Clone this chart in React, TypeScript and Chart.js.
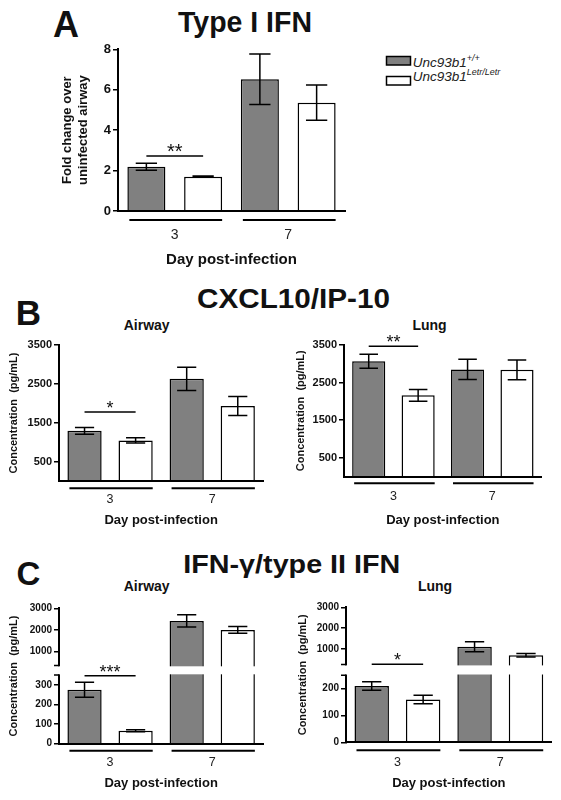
import React, { useEffect, useRef } from 'react';
import { Chart, registerables, LinearScale } from 'chart.js';

Chart.register(...registerables);

const FONT = "'Liberation Sans', Arial, Helvetica, sans-serif";
const GRAY = '#808080';

// ---------- data ----------
const days = ['3', '7'];
const seriesNames = ['Unc93b1+/+', 'Unc93b1Letr/Letr'];

// A: Type I IFN (fold change)
const typeI_wt = [2.19, 6.52];
const typeI_wtErr = [0.17, 1.25];
const typeI_letr = [1.7, 5.36];
const typeI_letrErr = [0.03, 0.87];
const typeI_ticks = [0, 2, 4, 6, 8];

// B: CXCL10 airway / lung (pg/mL)
const cxclAir_wt = [1290, 2630];
const cxclAir_wtErr = [85, 300];
const cxclAir_letr = [1045, 1930];
const cxclAir_letrErr = [65, 245];
const cxclLung_wt = [3065, 2850];
const cxclLung_wtErr = [187, 270];
const cxclLung_letr = [2160, 2840];
const cxclLung_letrErr = [155, 262];
const cxcl_ticks = [500, 1500, 2500, 3500];

// C: IFN-gamma airway / lung (pg/mL)
const ifngAir_wt = [275, 2415];
const ifngAir_wtErr = [38, 283];
const ifngAir_letr = [66, 2000];
const ifngAir_letrErr = [5, 152];
const ifngLung_wt = [210, 1110];
const ifngLung_wtErr = [16, 240];
const ifngLung_letr = [160, 698];
const ifngLung_letrErr = [16, 80];
const ifngAir_ticks = [0, 100, 200, 300, 1000, 2000, 3000];
const ifngLung_ticks = [0, 100, 200, 1000, 2000, 3000];

// ---------- broken y scale ----------
class BrokenLinearScale extends LinearScale {
  static id = 'brokenLinear';
  static defaults = { ...(LinearScale as any).defaults };
  _brk(): any {
    const o: any = this.options;
    return (o && o.brk) || ((this.chart.config.options as any).brk);
  }
  getPixelForValue(value: number) {
    const brk = this._brk();
    if (!brk) return super.getPixelForValue(value);
    const H = this.bottom - this.top;
    const hLow = H * brk.lowFrac;
    const gap = H * brk.gapFrac;
    const hUp = H - hLow - gap;
    if (value <= brk.low) return this.bottom - ((value - this.min) / (brk.low - this.min)) * hLow;
    const v = Math.max(value, brk.high);
    return this.bottom - hLow - gap - ((v - brk.high) / (this.max - brk.high)) * hUp;
  }
  getValueForPixel(pixel: number) {
    const brk = this._brk();
    if (!brk) return super.getValueForPixel(pixel);
    const H = this.bottom - this.top;
    const hLow = H * brk.lowFrac;
    const gap = H * brk.gapFrac;
    const hUp = H - hLow - gap;
    const d = this.bottom - pixel;
    if (d <= hLow) return this.min + (d / hLow) * (brk.low - this.min);
    return brk.high + ((d - hLow - gap) / hUp) * (this.max - brk.high);
  }
}
Chart.register(BrokenLinearScale);

interface Spec {
  wt: number[]; wtErr: number[]; letr: number[]; letrErr: number[];
  ymin: number; ymax: number; ticks: number[];
  brk?: { low: number; high: number; lowFrac: number; gapFrac: number };
  sig: { value: number; text: string; font: number };
  yTitle: string | string[];
  area: { L: number; T: number; R: number; B: number };
  yTitleX: number; yTitleFont: number; yTitleLH: number;
  yTickFont: number;
  xLabelY: number; xLabelFont: number;
  xTitleY: number; xTitleFont: number;
  groupLineOffset: number;
  capFrac: number;
}

function geometry(s: Spec) {
  const cl = Math.floor(s.yTitleX - s.yTitleLH / 2 - 2);
  const yW = s.area.L - cl;
  const yTitlePad = s.yTitleX - cl - s.yTitleLH / 2;
  const ct = Math.floor(s.area.T - 12);
  const padTop = s.area.T - ct;
  const xLH = s.xTitleFont * 1.2;
  const cb = Math.ceil(s.xTitleY + xLH / 2 + 3);
  const xTitlePadBottom = cb - (s.xTitleY + xLH / 2);
  const xH = cb - s.area.B;
  const cr = Math.ceil(s.area.R + 8);
  const padRight = cr - s.area.R;
  const xTickPad = s.xLabelY - s.area.B - 0.6 * s.xLabelFont;
  return { cl, ct, w: cr - cl, h: cb - ct, yW, yTitlePad, padTop, xTitlePadBottom, xH, padRight, xTickPad };
}

function buildConfig(s: Spec): any {
  const g = geometry(s);
  const annot = {
    id: 'annot',
    afterDraw(chart: any) {
      const ctx = chart.ctx;
      const y = chart.scales.y;
      const area = chart.chartArea;
      ctx.save();
      // axis break
      if (s.brk) {
        const H = area.bottom - area.top;
        const lowTop = area.bottom - H * s.brk.lowFrac;
        const upBottom = lowTop - H * s.brk.gapFrac;
        ctx.fillStyle = '#fff';
        ctx.fillRect(area.left - 3, upBottom + 0.8, area.right - area.left + 3, lowTop - upBottom - 1.6);
        ctx.strokeStyle = '#000';
        ctx.lineWidth = 1.5;
        ctx.beginPath();
        ctx.moveTo(area.left - 5, upBottom); ctx.lineTo(area.left, upBottom);
        ctx.moveTo(area.left - 5, lowTop); ctx.lineTo(area.left, lowTop);
        ctx.stroke();
      }
      // error bars
      const errs = [s.wtErr, s.letrErr];
      const vals = [s.wt, s.letr];
      ctx.strokeStyle = '#000';
      ctx.lineWidth = 1.5;
      errs.forEach((errArr, di) => {
        const meta = chart.getDatasetMeta(di);
        meta.data.forEach((el: any, j: number) => {
          const v = vals[di][j];
          const e = errArr[j];
          const yHi = y.getPixelForValue(v + e);
          const yLo = y.getPixelForValue(v - e);
          const cap = el.width * s.capFrac;
          ctx.beginPath();
          ctx.moveTo(el.x, yHi); ctx.lineTo(el.x, yLo);
          ctx.moveTo(el.x - cap, yHi); ctx.lineTo(el.x + cap, yHi);
          ctx.moveTo(el.x - cap, yLo); ctx.lineTo(el.x + cap, yLo);
          ctx.stroke();
        });
      });
      // group lines under x axis
      const m0 = chart.getDatasetMeta(0);
      const m1 = chart.getDatasetMeta(1);
      ctx.lineWidth = 2;
      m0.data.forEach((b0: any, i: number) => {
        const b1 = m1.data[i];
        const yy = area.bottom + s.groupLineOffset;
        ctx.beginPath();
        ctx.moveTo(b0.x - b0.width / 2 + 2, yy);
        ctx.lineTo(b1.x + b1.width / 2, yy);
        ctx.stroke();
      });
      // significance
      const ys = y.getPixelForValue(s.sig.value);
      const xa = m0.data[0].x;
      const xb = m1.data[0].x;
      ctx.lineWidth = 1.5;
      ctx.beginPath();
      ctx.moveTo(xa, ys); ctx.lineTo(xb, ys);
      ctx.stroke();
      ctx.fillStyle = '#111';
      ctx.font = `${s.sig.font}px ${FONT}`;
      ctx.textAlign = 'center';
      ctx.textBaseline = 'alphabetic';
      ctx.fillText(s.sig.text, (xa + xb) / 2, ys + 2);
      ctx.restore();
    },
  };

  return {
    type: 'bar',
    data: {
      labels: days,
      datasets: [
        { label: seriesNames[0], data: s.wt, backgroundColor: GRAY, borderColor: '#000', borderWidth: 1.5 },
        { label: seriesNames[1], data: s.letr, backgroundColor: '#ffffff', borderColor: '#000', borderWidth: 1.5 },
      ],
    },
    options: {
      responsive: false,
      animation: false,
      brk: s.brk,
      layout: { padding: { left: 0, top: g.padTop, right: g.padRight, bottom: 0 } },
      datasets: { bar: { categoryPercentage: 1.0, barPercentage: 0.67 } },
      plugins: { legend: { display: false }, tooltip: { enabled: false }, title: { display: false } },
      scales: {
        x: {
          type: 'category',
          offset: true,
          grid: { display: false, drawTicks: false },
          border: { display: true, color: '#000', width: 2, z: 1 },
          ticks: { padding: g.xTickPad, color: '#222', font: { family: FONT, size: s.xLabelFont } },
          title: {
            display: true,
            text: 'Day post-infection',
            color: '#111',
            font: { family: FONT, size: s.xTitleFont, weight: 'bold', lineHeight: 1.2 },
            padding: { top: 0, bottom: g.xTitlePadBottom },
          },
          afterFit: (sc: any) => { sc.height = g.xH; },
        },
        y: {
          type: s.brk ? 'brokenLinear' : 'linear',
          brk: s.brk,
          min: s.ymin,
          max: s.ymax,
          grid: { display: true, drawOnChartArea: false, drawTicks: true, tickLength: 5, color: '#000', lineWidth: 1.5 },
          border: { display: true, color: '#000', width: 2, z: 1 },
          ticks: {
            padding: 2,
            color: '#111',
            autoSkip: false,
            callback: (v: any) => String(v),
            font: { family: FONT, size: s.yTickFont, weight: 'bold' },
          },
          afterBuildTicks: (sc: any) => { sc.ticks = s.ticks.map((v) => ({ value: v })); },
          title: {
            display: true,
            text: s.yTitle,
            color: '#111',
            font: { family: FONT, size: s.yTitleFont, weight: 'bold', lineHeight: s.yTitleLH / s.yTitleFont },
            padding: { top: g.yTitlePad, bottom: 0 },
          },
          afterFit: (sc: any) => { sc.width = g.yW; },
        },
      },
    },
    plugins: [annot],
  };
}

const specs: Spec[] = [
  {
    wt: typeI_wt, wtErr: typeI_wtErr, letr: typeI_letr, letrErr: typeI_letrErr,
    ymin: 0, ymax: 8, ticks: typeI_ticks,
    sig: { value: 2.72, text: '**', font: 20 },
    yTitle: ['Fold change over', 'uninfected airway'],
    area: { L: 118, T: 49.3, R: 345, B: 211 },
    yTitleX: 67, yTitleFont: 13, yTitleLH: 16,
    yTickFont: 13,
    xLabelY: 235, xLabelFont: 14,
    xTitleY: 260, xTitleFont: 15,
    groupLineOffset: 9, capFrac: 0.28,
  },
  {
    wt: cxclAir_wt, wtErr: cxclAir_wtErr, letr: cxclAir_letr, letrErr: cxclAir_letrErr,
    ymin: 0, ymax: 3500, ticks: cxcl_ticks,
    sig: { value: 1777, text: '*', font: 18 },
    yTitle: 'Concentration  (pg/mL)',
    area: { L: 59, T: 345, R: 263.3, B: 481 },
    yTitleX: 14, yTitleFont: 11, yTitleLH: 13.2,
    yTickFont: 11,
    xLabelY: 500, xLabelFont: 12.5,
    xTitleY: 520, xTitleFont: 13,
    groupLineOffset: 7.3, capFrac: 0.28,
  },
  {
    wt: cxclLung_wt, wtErr: cxclLung_wtErr, letr: cxclLung_letr, letrErr: cxclLung_letrErr,
    ymin: 0, ymax: 3500, ticks: cxcl_ticks,
    sig: { value: 3470, text: '**', font: 18 },
    yTitle: 'Concentration  (pg/mL)',
    area: { L: 344, T: 345, R: 541.7, B: 476.5 },
    yTitleX: 301, yTitleFont: 11, yTitleLH: 13.2,
    yTickFont: 11,
    xLabelY: 497, xLabelFont: 12.5,
    xTitleY: 520, xTitleFont: 13,
    groupLineOffset: 6.8, capFrac: 0.28,
  },
  {
    wt: ifngAir_wt, wtErr: ifngAir_wtErr, letr: ifngAir_letr, letrErr: ifngAir_letrErr,
    ymin: 0, ymax: 3000, ticks: ifngAir_ticks,
    brk: { low: 350, high: 350, lowFrac: 0.5066, gapFrac: 0.0709 },
    sig: { value: 347, text: '***', font: 18 },
    yTitle: 'Concentration  (pg/mL)',
    area: { L: 59, T: 608.3, R: 263.3, B: 743.7 },
    yTitleX: 14, yTitleFont: 11, yTitleLH: 13.2,
    yTickFont: 10,
    xLabelY: 763, xLabelFont: 12.5,
    xTitleY: 783.3, xTitleFont: 13,
    groupLineOffset: 7, capFrac: 0.28,
  },
  {
    wt: ifngLung_wt, wtErr: ifngLung_wtErr, letr: ifngLung_letr, letrErr: ifngLung_letrErr,
    ymin: 0, ymax: 3000, ticks: ifngLung_ticks,
    brk: { low: 250, high: 250, lowFrac: 0.4963, gapFrac: 0.0793 },
    sig: { value: 261, text: '*', font: 18 },
    yTitle: 'Concentration  (pg/mL)',
    area: { L: 346, T: 607.3, R: 551.7, B: 742.3 },
    yTitleX: 302.5, yTitleFont: 11, yTitleLH: 13.2,
    yTickFont: 10,
    xLabelY: 762.3, xLabelFont: 12.5,
    xTitleY: 783.3, xTitleFont: 13,
    groupLineOffset: 8, capFrac: 0.28,
  },
];

function BarPanel({ spec }: { spec: Spec }) {
  const ref = useRef<HTMLCanvasElement>(null);
  const g = geometry(spec);
  useEffect(() => {
    if (!ref.current) return;
    const chart = new Chart(ref.current, buildConfig(spec));
    return () => chart.destroy();
  }, []);
  return (
    <canvas
      ref={ref}
      width={g.w}
      height={g.h}
      style={{ position: 'absolute', left: g.cl, top: g.ct, width: g.w, height: g.h }}
    />
  );
}

export default function App() {
  const txt = { fontFamily: FONT, fill: '#111' } as any;
  return (
    <div style={{ position: 'absolute', left: 0, top: 0, width: 561, height: 800, background: '#fff', overflow: 'hidden' }}>
      <svg width={561} height={800} style={{ position: 'absolute', left: 0, top: 0 }}>
        <text {...txt} x={53} y={36.5} fontSize={36} fontWeight="bold">A</text>
        <text {...txt} x={178} y={32} fontSize={30} fontWeight="bold" textLength={134} lengthAdjust="spacingAndGlyphs">Type I IFN</text>

        <rect x={386.5} y={56.5} width={24} height={8.5} fill={GRAY} stroke="#000" strokeWidth={1.5} />
        <rect x={386.5} y={76.5} width={24} height={8.5} fill="#fff" stroke="#000" strokeWidth={1.5} />
        <text {...txt} x={412.7} y={66.5} fontSize={13.5} fontStyle="italic" fill="#222">
          Unc93b1<tspan dy={-6} fontSize={9}>+/+</tspan>
        </text>
        <text {...txt} x={412.7} y={80.5} fontSize={13.5} fontStyle="italic" fill="#222">
          Unc93b1<tspan dy={-6} fontSize={9}>Letr/Letr</tspan>
        </text>

        <text {...txt} x={15.7} y={325} fontSize={35} fontWeight="bold">B</text>
        <text {...txt} x={197} y={307.5} fontSize={27} fontWeight="bold" textLength={193} lengthAdjust="spacingAndGlyphs">CXCL10/IP-10</text>
        <text {...txt} x={146.7} y={330} fontSize={14} fontWeight="bold" textAnchor="middle">Airway</text>
        <text {...txt} x={429.5} y={330} fontSize={14} fontWeight="bold" textAnchor="middle">Lung</text>

        <text {...txt} x={16.6} y={584.5} fontSize={33} fontWeight="bold">C</text>
        <text {...txt} x={183.3} y={573} fontSize={25} fontWeight="bold" textLength={217} lengthAdjust="spacingAndGlyphs">IFN-γ/type II IFN</text>
        <text {...txt} x={146.7} y={591} fontSize={14} fontWeight="bold" textAnchor="middle">Airway</text>
        <text {...txt} x={435} y={591} fontSize={14} fontWeight="bold" textAnchor="middle">Lung</text>
      </svg>
      {specs.map((s, i) => (
        <BarPanel key={i} spec={s} />
      ))}
    </div>
  );
}
